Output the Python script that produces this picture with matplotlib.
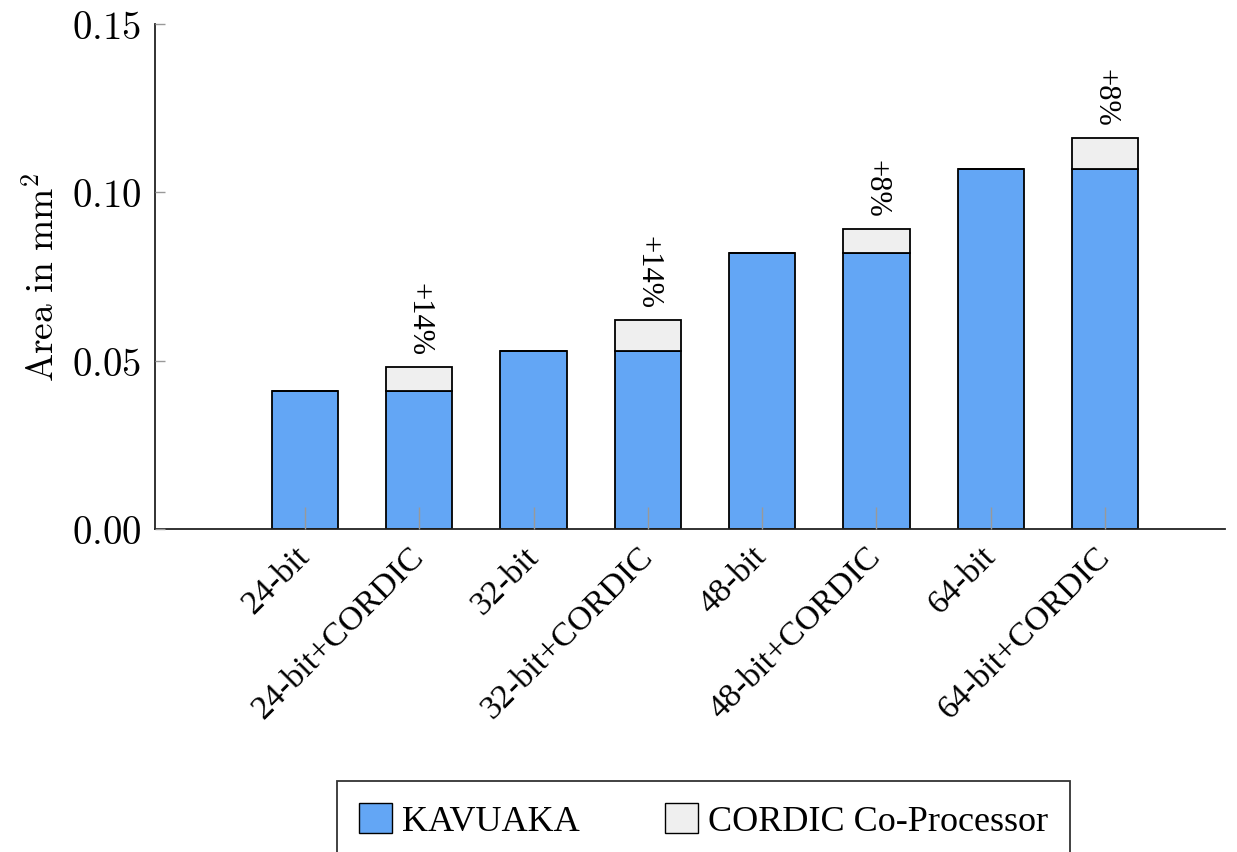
import matplotlib
matplotlib.use("Agg")
import matplotlib.pyplot as plt
import numpy as np
from matplotlib.patches import Patch

categories = ["24-bit", "24-bit+CORDIC", "32-bit", "32-bit+CORDIC",
              "48-bit", "48-bit+CORDIC", "64-bit", "64-bit+CORDIC"]
kavuaka_area = [0.041, 0.041, 0.053, 0.053, 0.082, 0.082, 0.107, 0.107]
cordic_area = [0.0, 0.007, 0.0, 0.009, 0.0, 0.007, 0.0, 0.009]
overhead_labels = ["", "+14%", "", "+14%", "", "+8%", "", "+8%"]
yticks = [0.00, 0.05, 0.10, 0.15]

plt.rcParams["font.family"] = ["Liberation Serif", "DejaVu Serif"]
plt.rcParams["mathtext.fontset"] = "cm"

blue = "#63a6f5"
grey = "#efefef"

fig = plt.figure(figsize=(12.37, 8.53), dpi=100)
ax = fig.add_axes([155 / 1237, 1 - 530 / 853, 1070 / 1237, 505 / 853])

x = np.arange(len(categories))
w = 0.58
ax.bar(x, kavuaka_area, width=w, color=blue, edgecolor="black", linewidth=1.3, zorder=2)
ax.bar(x, cordic_area, width=w, bottom=kavuaka_area, color=grey,
       edgecolor="black", linewidth=1.3, zorder=2)

for xi, base, extra, lab in zip(x, kavuaka_area, cordic_area, overhead_labels):
    if lab:
        ax.annotate(lab, (xi, base + extra), xytext=(0, 9), textcoords="offset points",
                    rotation=-90, ha="center", va="bottom", fontsize=22)

ax.set_xlim(-1.312, 8.05)
ax.set_ylim(0, 0.15)
ax.set_yticks(yticks)
ax.set_yticklabels([f"${v:.2f}$" for v in yticks], fontsize=28)
ax.set_xticks(x)
ax.set_xticklabels(categories, rotation=45, ha="right", va="center",
                   rotation_mode="anchor", fontsize=24.5)
ax.tick_params(axis="y", direction="in", length=7, color="#999999", width=1, pad=10)
ax.tick_params(axis="x", direction="in", length=16, color="#999999", width=1, pad=16)
for t in ax.xaxis.get_major_ticks():
    t.tick1line.set_zorder(3)
ax.set_axisbelow(False)

for s in ["top", "right"]:
    ax.spines[s].set_visible(False)
for s in ["left", "bottom"]:
    ax.spines[s].set_linewidth(1.3)
    ax.spines[s].set_color("#222222")

ax.set_ylabel(r"$\mathrm{Area\ in\ mm}^2$", fontsize=27, labelpad=7)

handles = [Patch(facecolor=blue, edgecolor="black", linewidth=1.0, label="KAVUAKA"),
           Patch(facecolor=grey, edgecolor="black", linewidth=1.0, label="CORDIC Co-Processor")]
leg = fig.legend(handles=handles, loc="upper left", bbox_to_anchor=(337 / 1237, 1 - 782 / 853),
                 ncol=2, fontsize=26, frameon=True, fancybox=False, borderpad=0.6,
                 columnspacing=2.35, handlelength=0.92, handleheight=0.92, handletextpad=0.28,
                 borderaxespad=0)
leg.get_frame().set_edgecolor("black")
leg.get_frame().set_linewidth(1.3)

fig.savefig("out.png", dpi=100)
